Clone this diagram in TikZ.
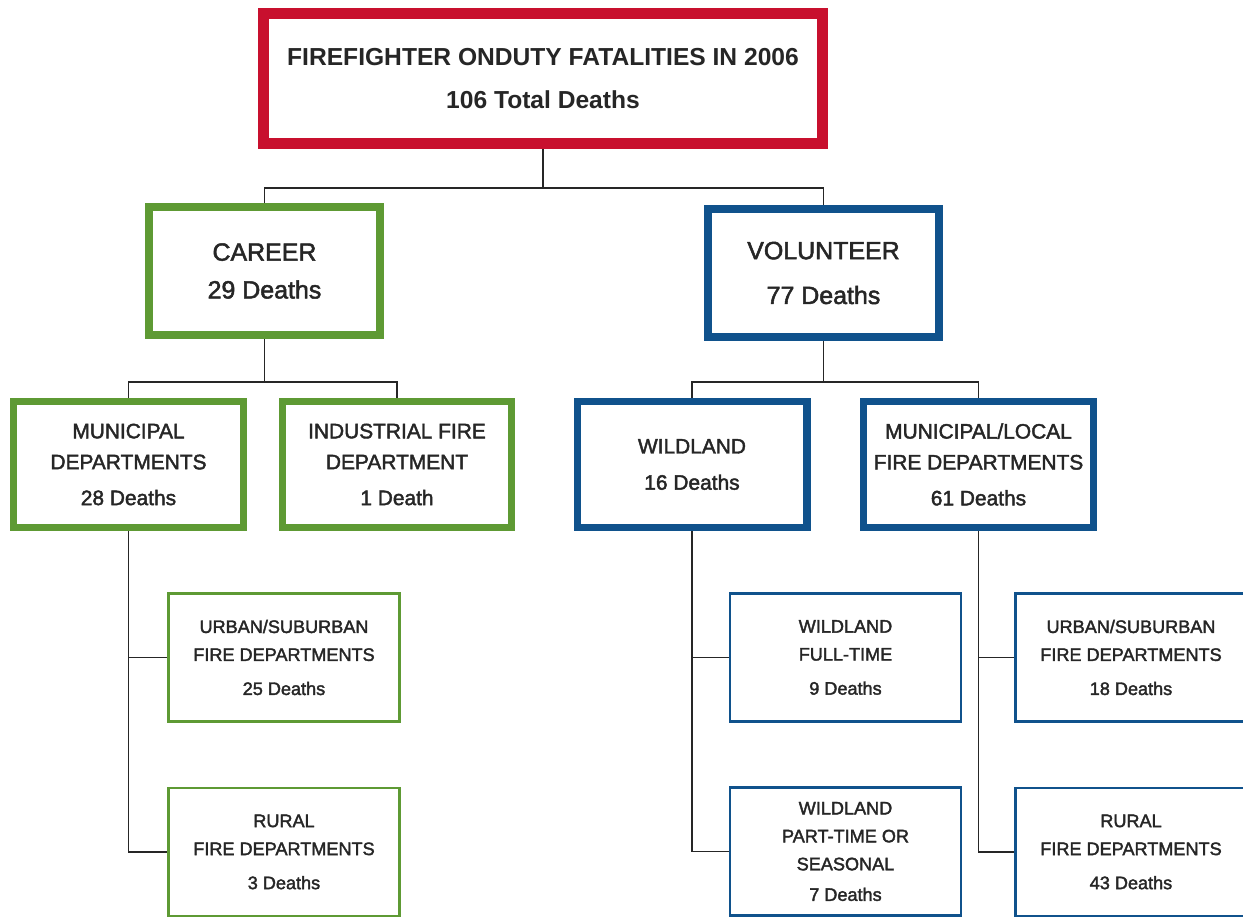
\documentclass[tikz,border=0pt]{standalone}
\usepackage{fontspec}
\setmainfont{Liberation Sans}
\newfontfamily\medfont{Liberation Sans}[FakeBold=2]
\usetikzlibrary{positioning}

\definecolor{firered}{RGB}{200,16,46}
\definecolor{careergreen}{RGB}{94,154,52}
\definecolor{volblue}{RGB}{16,82,140}

\begin{document}
\begin{tikzpicture}[
    x = 0.02cm,
    y = -0.02cm,
    link/.style = {
      draw = black!85,
      line width = 1.1pt
    },
    box/.style = {
      draw,
      fill = white,
      inner sep = 0pt,
      align = center,
      text = black!85
    },
    topbox/.style = {
      box,
      draw = firered,
      line width = 6.2pt,
      minimum width = 11.18cm,
      minimum height = 2.6cm,
      font = \fontsize{14}{24.4}\selectfont\bfseries
    },
    mainbox/.style = {
      box,
      line width = 4.5pt,
      minimum width = 4.62cm,
      minimum height = 2.56cm,
      font = \medfont\fontsize{14.2}{21.5}\selectfont
    },
    midbox/.style = {
      box,
      line width = 4pt,
      minimum width = 4.6cm,
      minimum height = 2.52cm,
      font = \medfont\fontsize{11.9}{17.6}\selectfont
    },
    subbox/.style = {
      box,
      line width = 1.6pt,
      minimum width = 4.62cm,
      minimum height = 2.56cm,
      font = \medfont\fontsize{10.3}{15.9}\selectfont
    }
  ]
  \useasboundingbox (0,0) rectangle (1243,918);

  % top of the tree
  \node[topbox] (total) at (543,78.5)
    {FIREFIGHTER ONDUTY FATALITIES IN 2006\\106 Total Deaths};

  % career / volunteer
  \node[mainbox, draw = careergreen] (career) at (264.5,271)
    {CAREER\\29 Deaths};
  \node[mainbox, draw = volblue] (volunteer) at (823.5,273)
    {VOLUNTEER\\[4pt] 77 Deaths};

  % departments
  \node[midbox, draw = careergreen] (municipal) at (128.5,464.5)
    {MUNICIPAL\\DEPARTMENTS\\[2.8pt]28 Deaths};
  \node[midbox, draw = careergreen] (industrial) at (397,464.5)
    {INDUSTRIAL FIRE\\DEPARTMENT\\[2.8pt]1 Death};
  \node[midbox, draw = volblue] (wildland) at (692,464.5)
    {WILDLAND\\[3pt]16 Deaths};
  \node[midbox, draw = volblue] (local) at (978.5,464.5)
    {MUNICIPAL/LOCAL\\FIRE DEPARTMENTS\\[2.8pt]61 Deaths};

  % lowest level
  \node[subbox, draw = careergreen] (curban) at (284,657.5)
    {URBAN/SUBURBAN\\FIRE DEPARTMENTS\\[3.5pt]25 Deaths};
  \node[subbox, draw = careergreen] (crural) at (284,852)
    {RURAL\\FIRE DEPARTMENTS\\[3.5pt]3 Deaths};
  \node[subbox, draw = volblue] (wfull) at (845.5,657.5)
    {WILDLAND\\FULL-TIME\\[3.5pt]9 Deaths};
  \node[subbox, draw = volblue] (wpart) at (845.5,851.5)
    {WILDLAND\\PART-TIME OR\\SEASONAL\\[1.5pt]7 Deaths};
  \node[subbox, draw = volblue] (vurban) at (1131,657.5)
    {URBAN/SUBURBAN\\FIRE DEPARTMENTS\\[3.5pt]18 Deaths};
  \node[subbox, draw = volblue] (vrural) at (1131,852)
    {RURAL\\FIRE DEPARTMENTS\\[3.5pt]43 Deaths};

  % joints
  \coordinate (j0) at (543,188);
  \coordinate (j1) at (264.5,382);
  \coordinate (j2) at (823.5,382);

  \scope[link]
    \draw (total) -- (j0);
    \draw (career.north) |- (j0) -| (volunteer.north);

    \draw (career) -- (j1);
    \draw (municipal.north) |- (j1) -| (industrial.north);
    \draw (volunteer) -- (j2);
    \draw (wildland.north) |- (j2) -| (local.north);

    \draw (municipal.south) |- (curban.west);
    \draw (municipal.south) |- (crural.west);
    \draw (wildland.south) |- (wfull.west);
    \draw (wildland.south) |- (wpart.west);
    \draw (local.south) |- (vurban.west);
    \draw (local.south) |- (vrural.west);
  \endscope
\end{tikzpicture}
\end{document}
